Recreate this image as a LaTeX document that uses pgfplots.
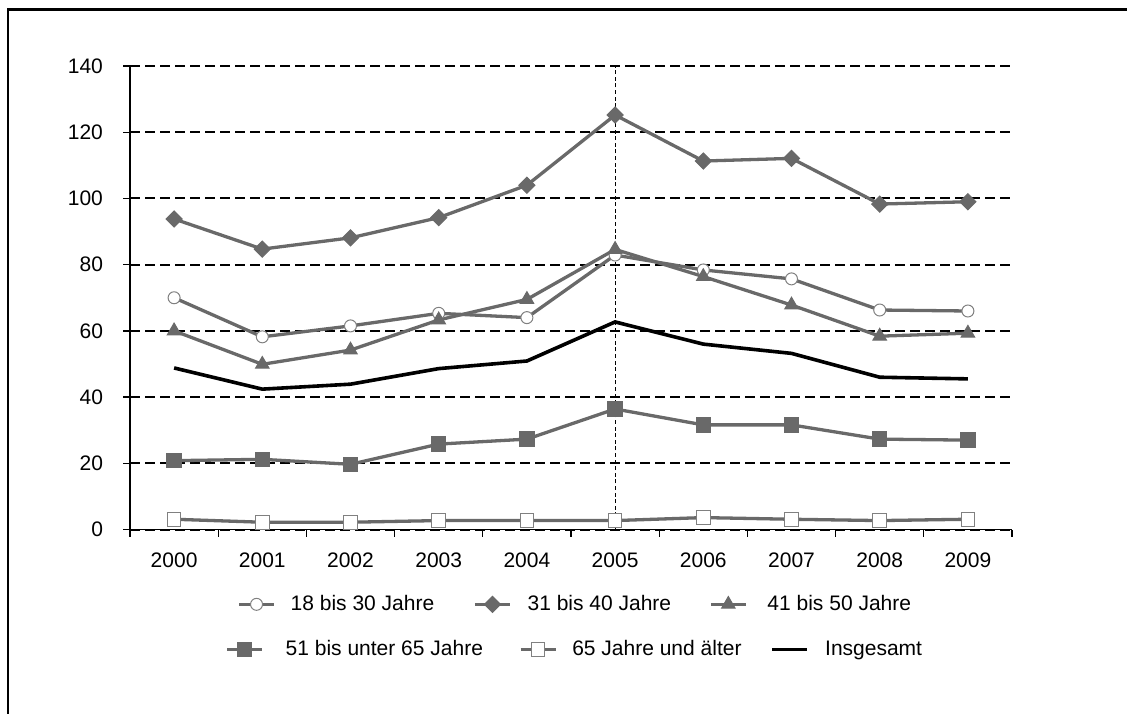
\documentclass[border=0pt]{standalone}
\usepackage{fontspec}
\setmainfont{Liberation Sans}
\usepackage{pgfplots}
\pgfplotsset{compat=1.18}
\definecolor{sgray}{RGB}{105,105,105}
\definecolor{bgray}{RGB}{128,128,128}
\newcommand{\chartfont}{\fontsize{10.5pt}{12.6pt}\selectfont}

\begin{document}
\begin{tikzpicture}[font=\chartfont]
\path[use as bounding box] (0,0) rectangle (563.5pt,-356.5pt);
\begin{scope}
\clip (0,0) rectangle (563.5pt,-356.5pt);
\draw[line width=1.3pt] (4pt,-400pt) -- (4pt,-4.75pt) -- (600pt,-4.75pt);
\end{scope}

\pgfplotsset{
  base/.style={
    scale only axis, width=441pt, height=231.75pt,
    at={(65pt,-264.75pt)}, anchor=south west,
    xmin=-0.5, xmax=9.5, ymin=0, ymax=140,
  },
  legend image code/.code={\draw[mark repeat=2,mark phase=2] plot coordinates {(0pt,0pt) (8.75pt,0pt) (17.5pt,0pt)};},
  every tick label/.append style={font=\chartfont},
}

\begin{axis}[base,
  axis x line=bottom, axis y line=left,
  axis line style={-, line width=0.65pt, black},
  xtick={-0.5,0.5,...,9.5}, xticklabels={},
  extra x ticks={0,1,2,3,4,5,6,7,8,9},
  extra x tick labels={2000,2001,2002,2003,2004,2005,2006,2007,2008,2009},
  extra x tick style={major tick length=0pt, grid=none, xticklabel style={yshift=-8pt}},
  ytick={0,20,...,140},
  yticklabel style={xshift=-6.5pt},
  tick align=outside, major tick length=3.5pt,
  tick style={black, line width=0.65pt},
  ymajorgrids, major grid style={black, line width=1pt, dash pattern=on 5pt off 2.5pt},
  /pgf/number format/assume math mode=true,
  legend style={draw=none, fill=none, inner sep=0pt, font=\chartfont, nodes={inner sep=0pt},
    at={(0.1213,-0.1614)}, anchor=west,
    /tikz/column 1/.style={column sep=7.5pt},
    /tikz/column 2/.style={column sep=19.5pt},
    /tikz/column 3/.style={column sep=8pt},
    /tikz/column 4/.style={column sep=19pt},
    /tikz/column 5/.style={column sep=10pt}},
  legend columns=3,
  clip=false,
]
\addplot[color=sgray, line width=1.65pt, mark=*, mark size=3pt, mark options={solid, fill=white, draw=bgray, line width=0.5pt}]
 coordinates {(0,70.0) (1,58.2) (2,61.5) (3,65.3) (4,64.0) (5,82.9) (6,78.4) (7,75.7) (8,66.3) (9,66.0)};
\addlegendentry{18 bis 30 Jahre}
\addplot[color=sgray, line width=1.65pt, mark=square*, mark size=2.85pt, mark options={solid, rotate=45, fill=sgray, draw=sgray, line width=0.5pt}]
 coordinates {(0,93.8) (1,84.7) (2,88.1) (3,94.2) (4,104.0) (5,125.2) (6,111.3) (7,112.1) (8,98.3) (9,99.0)};
\addlegendentry{31 bis 40 Jahre}
\addplot[color=sgray, line width=1.65pt, mark=triangle*, mark size=3.9pt, mark options={solid, fill=sgray, draw=sgray, line width=0.5pt}]
 coordinates {(0,60.0) (1,49.9) (2,54.2) (3,63.3) (4,69.5) (5,84.6) (6,76.4) (7,67.8) (8,58.4) (9,59.3)};
\addlegendentry{41 bis 50 Jahre}
\addplot[forget plot, color=sgray, line width=1.65pt, mark=square*, mark size=3.6pt, mark options={solid, fill=sgray, draw=sgray, line width=0.5pt}]
 coordinates {(0,20.8) (1,21.2) (2,19.7) (3,25.8) (4,27.3) (5,36.4) (6,31.6) (7,31.6) (8,27.3) (9,27.0)};
\addplot[forget plot, color=sgray, line width=1.65pt, mark=square*, mark size=3.4pt, mark options={solid, fill=white, draw=bgray, line width=0.5pt}]
 coordinates {(0,3.1) (1,2.2) (2,2.2) (3,2.7) (4,2.7) (5,2.7) (6,3.6) (7,3.1) (8,2.7) (9,3.1)};
\addplot[forget plot, color=black, line width=1.8pt, mark=none]
 coordinates {(0,48.8) (1,42.4) (2,43.9) (3,48.6) (4,50.9) (5,62.7) (6,56.0) (7,53.2) (8,46.0) (9,45.5)};
\addplot[forget plot, color=black, line width=0.5pt, dash pattern=on 2pt off 1.3pt, mark=none]
 coordinates {(5,0) (5,140)};
\end{axis}

\begin{axis}[base, hide axis,
  legend style={draw=none, fill=none, inner sep=0pt, font=\chartfont, nodes={inner sep=0pt},
    at={(0.1077,-0.2585)}, anchor=west,
    /tikz/column 1/.style={column sep=11pt},
    /tikz/column 2/.style={column sep=18pt},
    /tikz/column 3/.style={column sep=7.5pt},
    /tikz/column 4/.style={column sep=14.5pt},
    /tikz/column 5/.style={column sep=8pt}},
  legend columns=3,
]
\addlegendimage{color=sgray, line width=1.65pt, mark=square*, mark size=3.6pt, mark options={solid, fill=sgray, draw=sgray, line width=0.5pt}}
\addlegendentry{51 bis unter 65 Jahre}
\addlegendimage{color=sgray, line width=1.65pt, mark=square*, mark size=3.4pt, mark options={solid, fill=white, draw=bgray, line width=0.5pt}}
\addlegendentry{65 Jahre und älter}
\addlegendimage{color=black, line width=1.8pt, mark=none}
\addlegendentry{Insgesamt}
\end{axis}
\end{tikzpicture}
\end{document}
